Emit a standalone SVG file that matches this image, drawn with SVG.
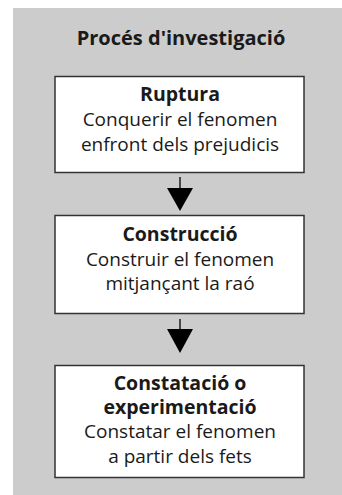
<svg xmlns="http://www.w3.org/2000/svg" width="342" height="495" viewBox="0 0 342 495">
<style>
text{font-family:"Open Sans","Noto Sans","Liberation Sans",sans-serif;font-size:19px;fill:#1a1a1a;text-anchor:middle}
.b{font-weight:bold;font-size:19.5px}
.t{font-size:20px}
.box{fill:#ffffff;stroke:#333333;stroke-width:1.5}
.stem{stroke:#000;stroke-width:1.3}
.head{fill:#000}
</style>
<rect x="13" y="8" width="329" height="487" fill="#cccccc"/>
<g id="title"><text class="b t" x="181" y="45">Procés d'investigació</text></g>
<g id="ruptura">
<rect class="box" x="55" y="76.5" width="249" height="96"/>
<text class="b" x="180" y="101">Ruptura</text>
<text x="180" y="126">Conquerir el fenomen</text>
<text x="180" y="150.5">enfront dels prejudicis</text>
</g>
<g id="construccio">
<rect class="box" x="55" y="215.5" width="249" height="98"/>
<text class="b" x="180" y="240.5">Construcció</text>
<text x="180" y="265.5">Construir el fenomen</text>
<text x="180" y="290">mitjançant la raó</text>
</g>
<g id="constatacio">
<rect class="box" x="55" y="365.5" width="249" height="112"/>
<text class="b" x="180" y="390">Constatació o</text>
<text class="b" x="180" y="413.5">experimentació</text>
<text x="180" y="438">Constatar el fenomen</text>
<text x="180" y="462.5">a partir dels fets</text>
</g>
<g id="connectors">
<line class="stem" x1="180" y1="177" x2="180" y2="189"/>
<polygon class="head" points="167,188 193,188 180,211"/>
<line class="stem" x1="180" y1="319" x2="180" y2="330"/>
<polygon class="head" points="167,329 193,329 180,353"/>
</g>
</svg>
